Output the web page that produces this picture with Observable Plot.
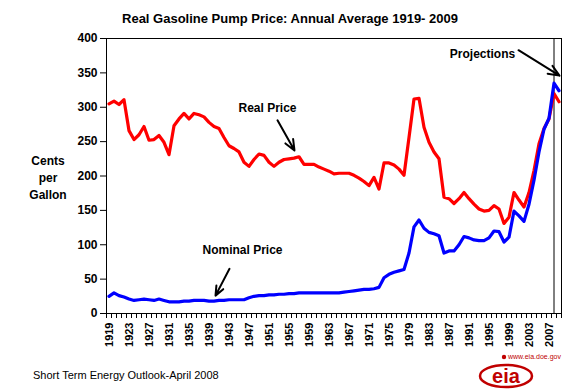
<!DOCTYPE html>
<html><head><meta charset="utf-8">
<script src="https://cdn.jsdelivr.net/npm/d3@7"></script>
<script src="https://cdn.jsdelivr.net/npm/@observablehq/plot@0.6"></script>
<style>
body{margin:0;background:#fff;font-family:Arial,"Liberation Sans",sans-serif;}
#wrap{position:relative;width:582px;height:390px;overflow:hidden;background:#fff;}
#chart{position:absolute;left:0;top:0;}
#title{position:absolute;top:11px;left:290px;transform:translateX(-50%);white-space:nowrap;font-weight:bold;font-size:13px;line-height:15px;color:#000;}
#ylab{position:absolute;left:48px;top:153px;transform:translateX(-50%);text-align:center;font-weight:bold;font-size:12px;line-height:17px;color:#000;}
#caption{position:absolute;left:33px;top:369px;font-size:11px;line-height:13px;color:#000;white-space:nowrap;}
#logo{position:absolute;left:478px;top:350px;}
</style></head>
<body>
<div id="wrap">
  <div id="chart"></div>
  <div id="title"></div>
  <div id="ylab"></div>
  <div id="caption"></div>
  <svg id="logo" width="90" height="40" viewBox="0 0 90 40">
    <ellipse cx="28" cy="26" rx="26" ry="11" fill="none" stroke="#c00000" stroke-width="2.5"/>
    <text x="28" y="33" text-anchor="middle" font-family="Arial, 'Liberation Sans', sans-serif" font-weight="bold" font-size="20" fill="#c00000">eia</text>
    <circle cx="26" cy="7" r="2.2" fill="#c00000"/>
    <text x="30" y="9" font-family="Arial, 'Liberation Sans', sans-serif" font-size="7" fill="#c00000">www.eia.doe.gov</text>
  </svg>
</div>
<script>
const titleText = "Real Gasoline Pump Price: Annual Average 1919- 2009";
const yLabelLines = ["Cents", "per", "Gallon"];
const captionText = "Short Term Energy Outlook-April 2008";

const years = d3.range(1919, 2010);
const realPrice = [
  305, 309, 304, 311, 266, 253, 260, 272, 252, 253,
  259, 249, 231, 273, 283, 291, 283, 291, 289, 286,
  278, 272, 269, 256, 244, 240, 235, 220, 214, 224,
  232, 230, 220, 214, 220, 224, 225, 226, 228, 217,
  217, 217, 213, 210, 207, 203, 204, 204, 204, 201,
  197, 192, 186, 198, 181, 219, 219, 216, 210, 201,
  256, 312, 313, 271, 249, 235, 225, 169, 167, 160,
  167, 176, 167, 159, 152, 149, 150, 157, 152, 131,
  140, 176, 165, 155, 176, 208, 247, 269, 283, 320, 308
];
const nominalPrice = [
  25, 30, 26, 24, 21, 19, 20, 21, 20, 19,
  21, 19, 17, 17, 17, 18, 18, 19, 19, 19,
  18, 18, 19, 19, 20, 20, 20, 20, 23, 25,
  26, 26, 27, 27, 28, 28, 29, 29, 30, 30,
  30, 30, 30, 30, 30, 30, 30, 31, 32, 33,
  34, 35, 35, 36, 38, 52, 57, 60, 62, 64,
  88, 126, 136, 124, 118, 116, 113, 88, 91, 91,
  100, 112, 110, 107, 106, 106, 110, 120, 119, 104,
  111, 149, 142, 134, 159, 194, 235, 268, 284, 335, 324
];
const tickYears = d3.range(1919, 2010, 4);
const yTicks = d3.range(0, 401, 50);
const projectionYear = 2008;
const annotations = [
  {text: "Real Price", year: 1950.7, value: 298},
  {text: "Nominal Price", year: 1945.7, value: 92},
  {text: "Projections", year: 1993.7, value: 377}
];
const arrows = [
  {x1: 1952.7, y1: 281, x2: 1956.1, y2: 237},
  {x1: 1943.1, y1: 65, x2: 1940.3, y2: 26},
  {x1: 2000.9, y1: 383, x2: 2009.1, y2: 346}
];

const realData = years.map((year, i) => ({year, value: realPrice[i]}));
const nominalData = years.map((year, i) => ({year, value: nominalPrice[i]}));

document.getElementById("title").textContent = titleText;
document.getElementById("ylab").innerHTML = yLabelLines.join("<br>");
document.getElementById("caption").textContent = captionText;

const font = "Arial, 'Liberation Sans', sans-serif";
const chart = Plot.plot({
  width: 582, height: 390,
  marginTop: 38, marginBottom: 77, marginLeft: 106, marginRight: 21,
  style: {fontFamily: font, fontSize: "12px", background: "transparent", color: "#000"},
  x: {domain: [1918.5, 2009.5], axis: null},
  y: {domain: [0, 400], axis: null},
  marks: [
    Plot.frame({stroke: "#000", strokeWidth: 1}),
    Plot.axisY(yTicks, {tickSize: 6, tickPadding: 3, fontSize: 12, fontWeight: "bold", label: null, stroke: "#000"}),
    Plot.axisX(d3.range(1918.5, 2010, 1), {tickSize: 5, tickFormat: () => "", label: null, stroke: "#000"}),
    Plot.axisX(tickYears, {tickSize: 0, tickRotate: -90, tickPadding: 9, fontSize: 11, fontWeight: "bold", tickFormat: d => String(d), label: null}),
    Plot.ruleX([projectionYear], {y1: 0, y2: 400, stroke: "#000", strokeWidth: 1}),
    Plot.line(realData, {x: "year", y: "value", stroke: "#ff0000", strokeWidth: 3.2, strokeLinejoin: "round"}),
    Plot.line(nominalData, {x: "year", y: "value", stroke: "#0000ff", strokeWidth: 3.2, strokeLinejoin: "round"}),
    Plot.arrow(arrows, {x1: "x1", y1: "y1", x2: "x2", y2: "y2", stroke: "#000", strokeWidth: 2, headLength: 9, headAngle: 45}),
    Plot.text(annotations, {x: "year", y: "value", text: "text", fontSize: 12, fontWeight: "bold", fill: "#000"})
  ]
});
document.getElementById("chart").appendChild(chart);
</script>
</body></html>
